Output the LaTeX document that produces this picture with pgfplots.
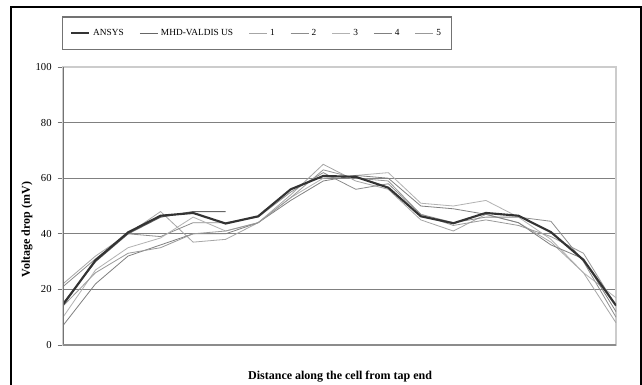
\documentclass[border=0pt]{standalone}
\usepackage{pgfplots}
\pgfplotsset{compat=1.18}
\usepackage{fontspec}
\setmainfont{Liberation Serif}
\begin{document}
\begin{tikzpicture}
\useasboundingbox (0,0) rectangle (481.5pt,288.75pt);
\fill[white] (0,0) rectangle (481.5pt,288.75pt);
\draw[black, line width=1.3pt] (8.4pt,-10pt) -- (8.4pt,283.5pt) -- (480.9pt,283.5pt) -- (480.9pt,-10pt);
\begin{axis}[
  at={(47.25pt,30pt)}, anchor=south west,
  scale only axis, width=414.75pt, height=208.5pt,
  xmin=0, xmax=17, ymin=0, ymax=100,
  xtick=\empty, ytick={0,20,...,100},
  ytick pos=left, tick align=outside, major tick length=4pt,
  tick style={black!55, line width=0.7pt},
  ymajorgrids, grid style={black!50, line width=1pt},
  axis line style={black!20, line width=0.8pt},
  /pgf/number format/assume math mode=true,
  yticklabel style={font=\fontsize{8}{9}\selectfont, xshift=-1pt},
  ylabel={\textbf{Voltage drop (mV)}},
  ylabel style={font=\fontsize{9}{10}\selectfont, at={(axis description cs:-0.065,0.415)}, anchor=center},
  xlabel={\textbf{Distance along the cell from tap end}},
  xlabel style={font=\fontsize{9}{10}\selectfont, at={(axis description cs:0.501,-0.115)}, anchor=center},
  legend columns=-1,
  legend style={at={(axis description cs:0.351,1.122)}, anchor=center,
    draw=black!55, line width=0.8pt, font=\fontsize{7}{8}\selectfont,
    inner xsep=6pt, inner ysep=7pt,
    /tikz/every even column/.append style={column sep=9.6pt}},
  legend image code/.code={\draw[#1] (0pt,0pt) -- (13.5pt,0pt);},
]
\addplot[black!35, line width=0.6pt, forget plot] coordinates {
(0,22) (1,32) (2,40) (3,48) (4,37) (5,38) (6,44) (7,54) (8,65) (9,59) (10,56) (11,45) (12,41) (13,47) (14,44) (15,37) (16,26) (17,8)};
\addplot[black!45, line width=0.6pt, forget plot] coordinates {
(0,21) (1,31) (2,40) (3,39) (4,44) (5,44) (6,46) (7,55) (8,62) (9,56) (10,58) (11,47) (12,44) (13,46) (14,46) (15,44.5) (16,30) (17,10)};
\addplot[black!30, line width=0.6pt, forget plot] coordinates {
(0,10) (1,27) (2,35) (3,38.5) (4,46) (5,41) (6,44) (7,53) (8,60) (9,61) (10,62) (11,51) (12,50) (13,52) (14,46) (15,38) (16,26) (17,17)};
\addplot[black!50, line width=0.6pt, forget plot] coordinates {
(0,7) (1,22) (2,32) (3,36) (4,40) (5,40) (6,44) (7,52) (8,59) (9,61) (10,60) (11,50) (12,49) (13,47) (14,44) (15,36) (16,31) (17,12)};
\addplot[black!40, line width=0.6pt, forget plot] coordinates {
(0,14) (1,26) (2,33) (3,35) (4,40) (5,41) (6,44) (7,53) (8,63) (9,60) (10,59) (11,47) (12,43) (13,45) (14,43) (15,39) (16,33) (17,14)};
\addplot[black!60, line width=0.8pt, forget plot] coordinates {
(0,15) (1,30) (2,40) (3,46) (4,48) (5,48)};
\addplot[black!80, line width=1.6pt, forget plot] coordinates {
(0,14.5) (1,30.5) (2,40.5) (3,46.5) (4,47.5) (5,43.7) (6,46.3) (7,56) (8,60.8) (9,60.5) (10,56.6) (11,46.3) (12,43.8) (13,47.5) (14,46.5) (15,40.6) (16,30.6) (17,14.2)};
\draw[black!55, line width=0.8pt] (axis cs:0,0) -- (axis cs:0,100);
\draw[black!45, line width=1.2pt] (axis cs:0,0) -- (axis cs:17,0);
\addlegendimage{black!80, line width=1.6pt}\addlegendentry{ANSYS}
\addlegendimage{black!60, line width=0.8pt}\addlegendentry{MHD-VALDIS US}
\addlegendimage{black!35, line width=0.6pt}\addlegendentry{1}
\addlegendimage{black!45, line width=0.6pt}\addlegendentry{2}
\addlegendimage{black!30, line width=0.6pt}\addlegendentry{3}
\addlegendimage{black!50, line width=0.6pt}\addlegendentry{4}
\addlegendimage{black!40, line width=0.6pt}\addlegendentry{5}
\end{axis}
\end{tikzpicture}
\end{document}
